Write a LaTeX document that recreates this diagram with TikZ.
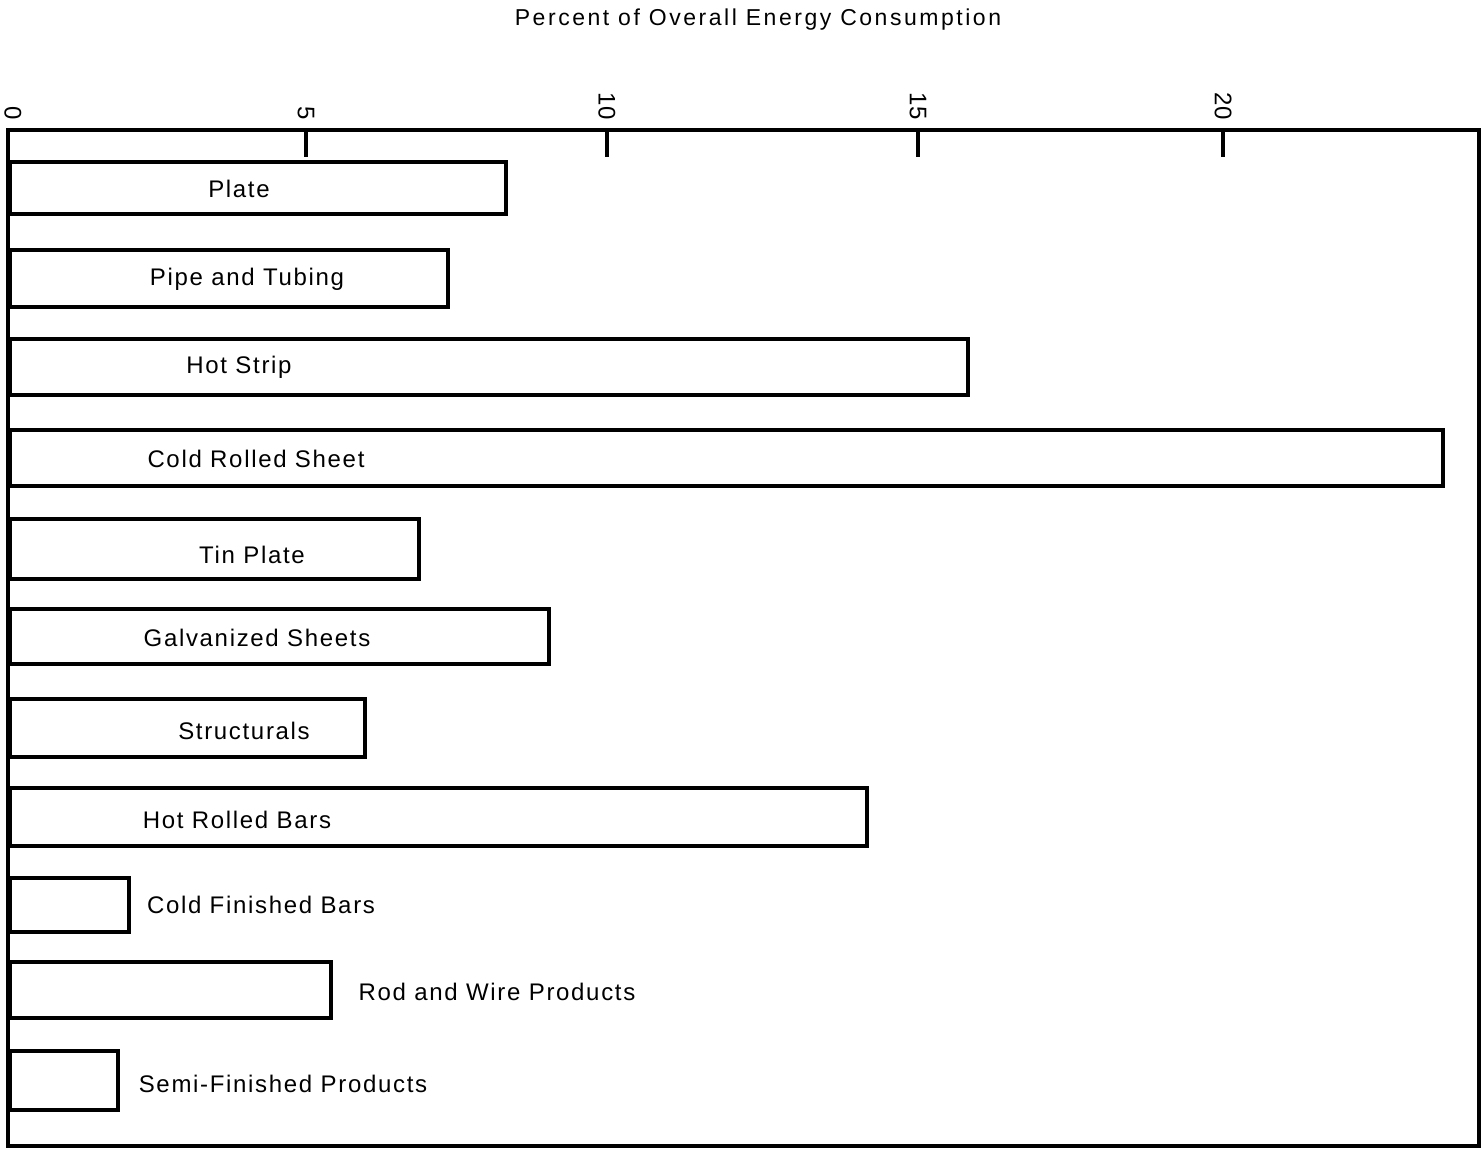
\documentclass[tikz,border=0pt]{standalone}
\usepackage{fontspec}
\setmainfont{Liberation Sans}[LetterSpace=7]
\newfontfamily\titlefont{Liberation Sans}[LetterSpace=11]
\newfontfamily\tickfont{Liberation Sans}[LetterSpace=3]
\begin{document}
\begin{tikzpicture}[x=1pt,y=-1pt,
  frame/.style={line width=3.5pt},
  bar/.style={draw,line width=4pt,anchor=west,inner sep=0pt,minimum height=54pt},
  lbl/.style={font=\fontsize{24}{28}\selectfont,inner sep=0pt},
  ticklbl/.style={font=\tickfont\fontsize{24}{28}\selectfont,rotate=-90,anchor=east,inner sep=0pt},
  tick/.style={line width=3.5pt}]
\useasboundingbox (0,0) rectangle (1484,1150);
\node[font=\titlefont\fontsize{23}{27}\selectfont,inner sep=0pt] (title) at (758,20) {Percent of Overall Energy Consumption};
% frame
\coordinate (tl) at (8,130);
\coordinate (br) at (1479,1146);
\draw[frame] (tl) rectangle (br);
% ticks
\foreach \v/\x in {5/306,10/607,15/918,20/1223}{
  \coordinate (t\v a) at (\x,130);
  \coordinate (t\v b) at (\x,157);
  \draw[tick] (t\v a) -- (t\v b);
  \node[ticklbl] (tl\v) at (\x,120) {\v};
}
\node[ticklbl] (tl0) at (13,120) {0};
% bars
\node[bar,minimum width=496pt,minimum height=52pt] (b1) at (8,188) {};
\node[bar,minimum width=438pt,minimum height=57pt] (b2) at (8,278.5) {};
\node[bar,minimum width=958pt,minimum height=56pt] (b3) at (8,367) {};
\node[bar,minimum width=1433pt,minimum height=56pt] (b4) at (8,458) {};
\node[bar,minimum width=409pt,minimum height=60pt] (b5) at (8,549) {};
\node[bar,minimum width=539pt,minimum height=55pt] (b6) at (8,636.5) {};
\node[bar,minimum width=355pt,minimum height=58pt] (b7) at (8,728) {};
\node[bar,minimum width=857pt,minimum height=58pt] (b8) at (8,817) {};
\node[bar,minimum width=119pt,minimum height=54pt] (b9) at (8,905) {};
\node[bar,minimum width=321pt,minimum height=56pt] (b10) at (8,990) {};
\node[bar,minimum width=108pt,minimum height=59pt] (b11) at (8,1080.5) {};
% labels
\node[lbl] (l1) at (239,189) {Plate};
\node[lbl] (l2) at (247,279) {Pipe and Tubing};
\node[lbl] (l3) at (239,367) {Hot Strip};
\node[lbl] (l4) at (256,459) {Cold Rolled Sheet};
\node[lbl] (l5) at (252,555) {Tin Plate};
\node[lbl] (l6) at (257,638) {Galvanized Sheets};
\node[lbl] (l7) at (244,731) {Structurals};
\node[lbl] (l8) at (237,820) {Hot Rolled Bars};
\node[lbl] (l9) at (261,905) {Cold Finished Bars};
\node[lbl] (l10) at (497,992) {Rod and Wire Products};
\node[lbl] (l11) at (283,1084) {Semi-Finished Products};
\end{tikzpicture}
\end{document}
